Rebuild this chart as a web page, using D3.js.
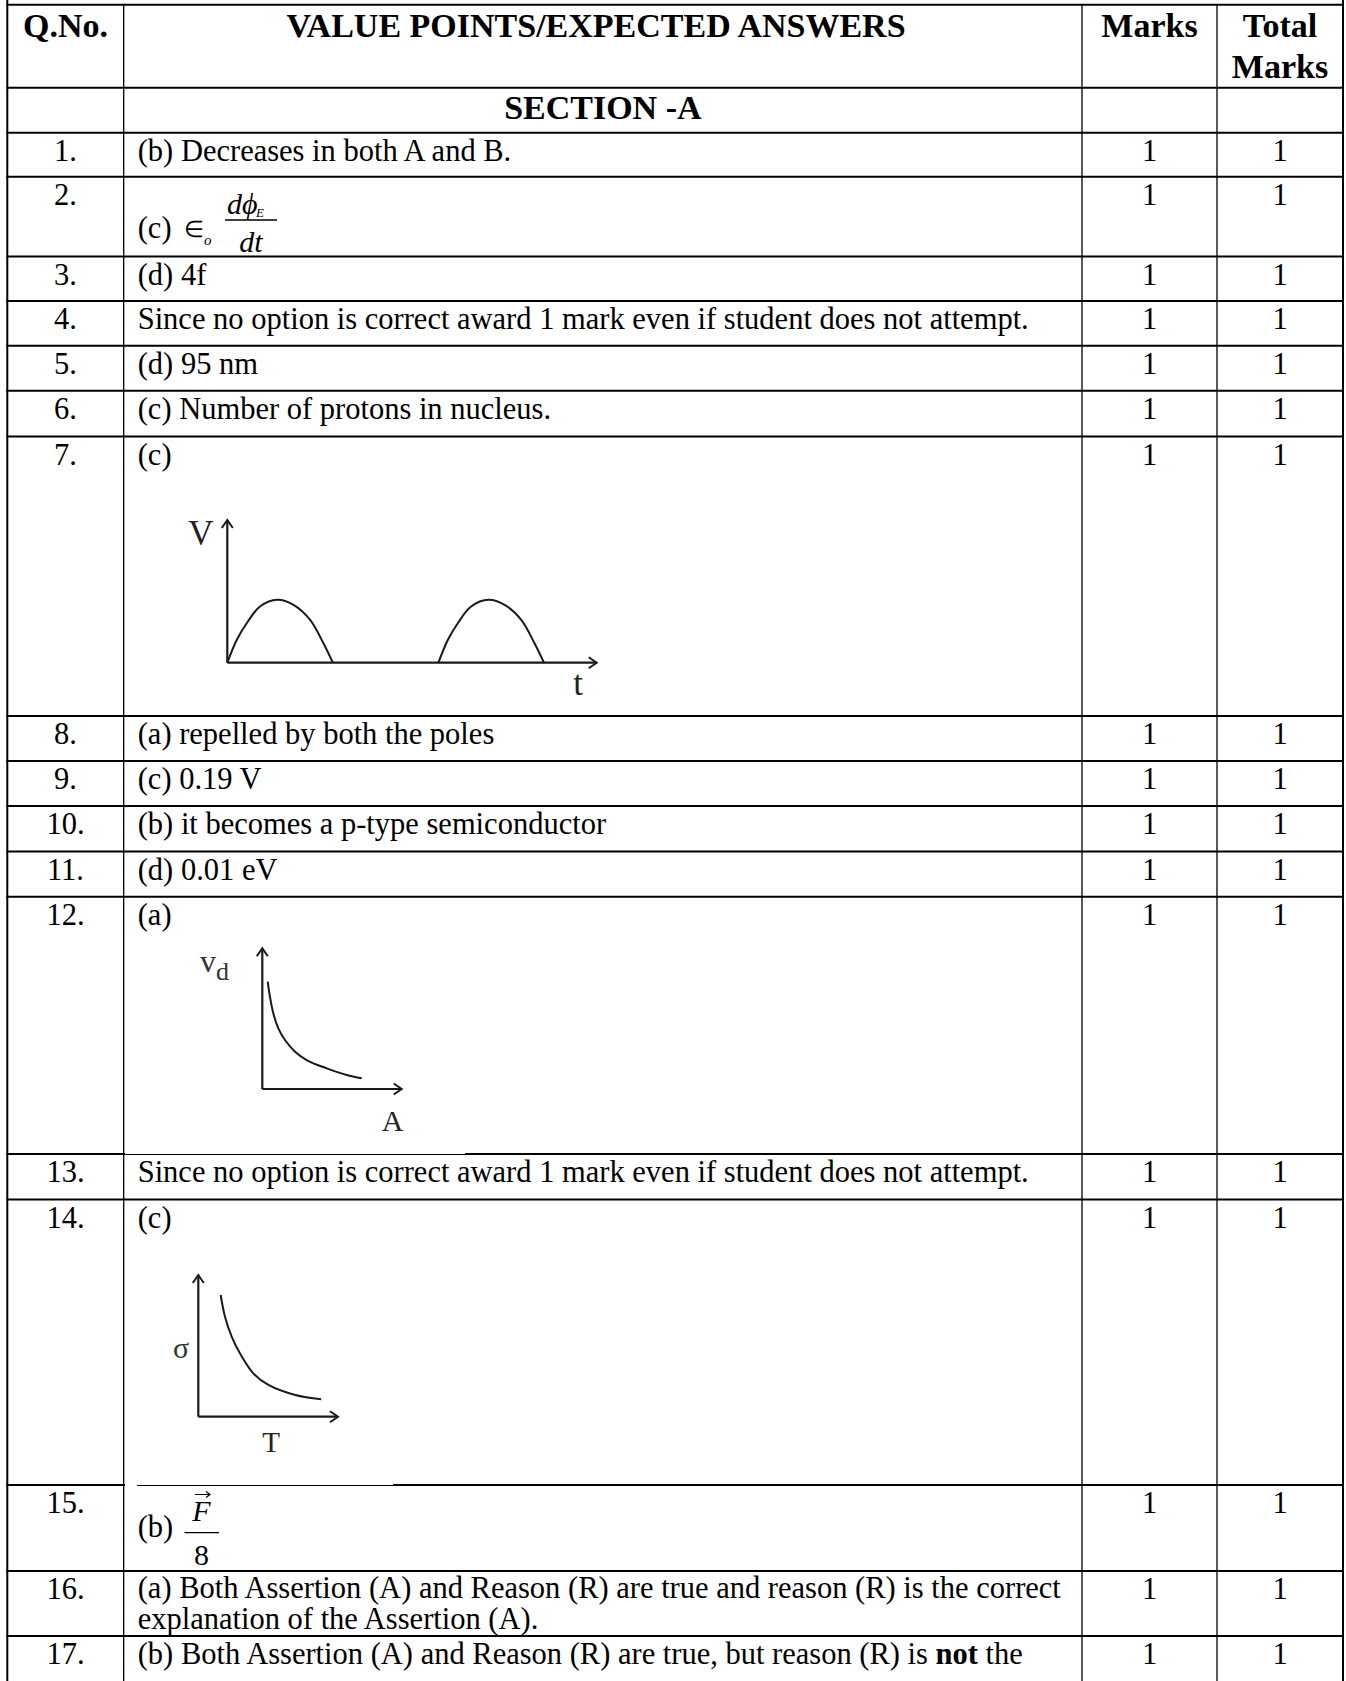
<!DOCTYPE html>
<html>
<head>
<meta charset="utf-8">
<script src="https://cdn.jsdelivr.net/npm/d3@7"></script>
<style>
  body { margin: 0; background: #fff; }
  svg { display: block; font-family: "Liberation Serif", "Times New Roman", serif; }
  text { white-space: pre; }
</style>
</head>
<body>
<svg id="canvas" width="1346" height="1681"></svg>
<script>
// table content
const headerLabels = ["Q.No.", "VALUE POINTS/EXPECTED ANSWERS", "Marks", "Total"];
const headerSecondLine = ["", "", "", "Marks"];
const sectionTitle = "SECTION -A";
const questionNos = ["1.", "2.", "3.", "4.", "5.", "6.", "7.", "8.", "9.", "10.",
  "11.", "12.", "13.", "14.", "15.", "16.", "17."];
const answerLines = [
  ["(b) Decreases in both A and B."],
  ["(c)"],
  ["(d) 4f"],
  ["Since no option is correct award 1 mark even if student does not attempt."],
  ["(d) 95 nm"],
  ["(c) Number of protons in nucleus."],
  ["(c)"],
  ["(a) repelled by both the poles"],
  ["(c) 0.19 V"],
  ["(b) it becomes a p-type semiconductor"],
  ["(d) 0.01 eV"],
  ["(a)"],
  ["Since no option is correct award 1 mark even if student does not attempt."],
  ["(c)"],
  ["(b)"],
  ["(a) Both Assertion (A) and Reason (R) are true and reason (R) is the correct",
   "explanation of the Assertion (A)."],
  ["(b) Both Assertion (A) and Reason (R) are true, but reason (R) is **not** the"]
];
const marks = [1, 1, 1, 1, 1, 1, 1, 1, 1, 1, 1, 1, 1, 1, 1, 1, 1];
const totalMarks = [1, 1, 1, 1, 1, 1, 1, 1, 1, 1, 1, 1, 1, 1, 1, 1, 1];

// Q7: half wave output, one arch, repeated at each start time
const archT = [0, 0.089, 0.184, 0.31, 0.475, 0.627, 0.785, 0.911, 1];
const archV = [0, 0.362, 0.628, 0.894, 1, 0.92, 0.681, 0.309, 0];
const archStarts = [0, 2];

// Q12: drift velocity vs area
const driftA = [0.385, 0.55, 0.79, 1.15, 1.63, 2.35, 3.18, 4.62, 6.05, 7.13];
const driftV = [7.63, 6.56, 5.38, 4.31, 3.48, 2.65, 2.06, 1.47, 1.0, 0.76];

// Q14: conductivity vs temperature
const condT = [1.6, 1.91, 2.39, 2.98, 3.94, 5.02, 6.94, 8.8];
const condSigma = [8.59, 7.06, 5.65, 4.47, 3.06, 2.24, 1.53, 1.23];

// layout
const rowEdges = [4.7, 87.7, 132.7, 176.7, 256.5, 301, 345.7, 390.7, 436.5, 716, 761,
  806, 851.5, 896.7, 1154, 1199.5, 1485, 1571, 1636, 1720];
const colEdges = [7.3, 123.7, 1082, 1217, 1343];
const bodySize = 30.5;
const headSize = 34;

const canvas = d3.select("#canvas");

const colMid = (i) => (colEdges[i] + colEdges[i + 1]) / 2;
const rowTop = (q) => rowEdges[q + 2];

// grid lines
canvas
  .selectAll("line.hrule")
  .data(rowEdges.slice(0, 19))
  .enter()
  .append("line")
  .attr("class", "hrule")
  .attr("x1", colEdges[0] - 1)
  .attr("x2", colEdges[4] + 1)
  .attr("y1", (y) => y)
  .attr("y2", (y) => y)
  .attr("stroke", "#000")
  .attr("stroke-width", 2);

// where the pasted pictures cover part of a rule
const ruleCuts = [
  { y: rowEdges[14], x0: 125, x1: 465, w: 1 },
  { y: rowEdges[16], x0: 125, x1: 137, w: 3 },
  { y: rowEdges[16], x0: 137, x1: 393, w: 1 }
];
canvas
  .selectAll("line.cut")
  .data(ruleCuts)
  .enter()
  .append("line")
  .attr("x1", (c) => c.x0)
  .attr("x2", (c) => c.x1)
  .attr("y1", (c) => c.y - (c.w === 1 ? 0.5 : 0))
  .attr("y2", (c) => c.y - (c.w === 1 ? 0.5 : 0))
  .attr("stroke", "#fff")
  .attr("stroke-width", (c) => c.w);

canvas
  .selectAll("line.vrule")
  .data(colEdges)
  .enter()
  .append("line")
  .attr("class", "vrule")
  .attr("x1", (x) => x)
  .attr("x2", (x) => x)
  .attr("y1", (x, i) => (i === 0 || i === 4 ? 0 : rowEdges[0]))
  .attr("y2", 1681)
  .attr("stroke", "#000")
  .attr("stroke-width", (x, i) => (i === 0 || i === 4 ? 2 : 1.3));

// header
canvas
  .selectAll("text.head")
  .data(headerLabels)
  .enter()
  .append("text")
  .attr("x", (d, i) => (i === 1 ? 596 : colMid(i)))
  .attr("y", rowEdges[0] + 32.5)
  .attr("text-anchor", "middle")
  .attr("font-weight", "bold")
  .attr("font-size", headSize)
  .text((d) => d);

canvas
  .selectAll("text.head2")
  .data(headerSecondLine)
  .enter()
  .append("text")
  .attr("x", (d, i) => colMid(i))
  .attr("y", rowEdges[0] + 73.5)
  .attr("text-anchor", "middle")
  .attr("font-weight", "bold")
  .attr("font-size", headSize)
  .text((d) => d);

canvas
  .append("text")
  .attr("x", colMid(1))
  .attr("y", rowEdges[1] + 31)
  .attr("text-anchor", "middle")
  .attr("font-weight", "bold")
  .attr("font-size", headSize)
  .text(sectionTitle);

// question rows
const rows = canvas
  .selectAll("g.row")
  .data(questionNos)
  .enter()
  .append("g")
  .attr("class", "row")
  .attr("transform", (d, i) => "translate(0," + rowTop(i) + ")")
  .attr("font-size", bodySize);

rows
  .append("text")
  .attr("x", colMid(0))
  .attr("y", 28)
  .attr("text-anchor", "middle")
  .text((d) => d);

rows
  .append("text")
  .attr("x", colMid(2))
  .attr("y", 28)
  .attr("text-anchor", "middle")
  .text((d, i) => marks[i]);

rows
  .append("text")
  .attr("x", colMid(3))
  .attr("y", 28)
  .attr("text-anchor", "middle")
  .text((d, i) => totalMarks[i]);

rows.each(function (d, i) {
  let lines = answerLines[i];
  let dy = 28;
  if (i === 1) dy = 61.6;
  if (i === 14) dy = 51.7;
  if (i === 15) dy = 26.5;
  lines.forEach((line, k) => {
    const t = d3
      .select(this)
      .append("text")
      .attr("x", 137.7)
      .attr("y", dy + k * 31);
    line.split("**").forEach((part, j) => {
      t.append("tspan")
        .attr("font-weight", j % 2 === 1 ? "bold" : null)
        .text(part);
    });
  });
});

// Q2 formula
const q2 = canvas.append("g").attr("font-style", "italic");
q2.append("text").attr("x", 184).attr("y", 237).attr("font-style", "normal")
  .attr("font-size", 23).text("\u2208");
q2.append("text").attr("x", 204).attr("y", 245).attr("font-size", 15).text("o");
q2.append("text").attr("x", 227).attr("y", 214).attr("font-size", 30).text("d\u03D5");
q2.append("text").attr("x", 256).attr("y", 217).attr("font-size", 13).text("E");
q2.append("line").attr("x1", 225).attr("x2", 277).attr("y1", 220).attr("y2", 220)
  .attr("stroke", "#000").attr("stroke-width", 1.3);
q2.append("text").attr("x", 251).attr("y", 252).attr("text-anchor", "middle")
  .attr("font-size", 30).text("dt");

// Q15 formula
const q15 = canvas.append("g");
q15.append("text").attr("x", 201.5).attr("y", 1521).attr("text-anchor", "middle")
  .attr("font-style", "italic").attr("font-size", 30).text("F");
q15.append("path").attr("d", "M195,1494.5 H210 M206,1491.5 L210,1494.5 L206,1497.5")
  .attr("fill", "none").attr("stroke", "#000").attr("stroke-width", 1.2);
q15.append("line").attr("x1", 184.5).attr("x2", 219).attr("y1", 1532.7).attr("y2", 1532.7)
  .attr("stroke", "#000").attr("stroke-width", 1.3);
q15.append("text").attr("x", 201.5).attr("y", 1565).attr("text-anchor", "middle")
  .attr("font-size", 30).text("8");

// arrow marker for sketch axes
canvas
  .append("defs")
  .append("marker")
  .attr("id", "arrow")
  .attr("markerUnits", "userSpaceOnUse")
  .attr("viewBox", "-10 -7 12 14")
  .attr("markerWidth", 12)
  .attr("markerHeight", 14)
  .attr("refX", 0)
  .attr("refY", 0)
  .attr("orient", "auto")
  .append("path")
  .attr("d", "M-8,-5.5 L0,0 L-8,5.5")
  .attr("fill", "none")
  .attr("stroke", "#1a1a1a")
  .attr("stroke-width", 2);

const drawAxes = (g, x, y) => {
  const [x0, x1] = x.domain();
  const [y0, y1] = y.domain();
  g.append("line")
    .attr("x1", x(x0)).attr("y1", y(y0))
    .attr("x2", x(x0)).attr("y2", y(y1))
    .attr("stroke", "#1a1a1a").attr("stroke-width", 2.2)
    .attr("marker-end", "url(#arrow)");
  g.append("line")
    .attr("x1", x(x0)).attr("y1", y(y0))
    .attr("x2", x(x1)).attr("y2", y(y0))
    .attr("stroke", "#1a1a1a").attr("stroke-width", 2.2)
    .attr("marker-end", "url(#arrow)");
};

// Q7 sketch
const x7 = d3.scaleLinear().domain([0, 3.5]).range([227.3, 596.7]);
const y7 = d3.scaleLinear().domain([0, 2.27]).range([662.7, 520]);
const g7 = canvas.append("g");
drawAxes(g7, x7, y7);
const archLine = d3
  .line()
  .x((p) => x7(p[0]))
  .y((p) => y7(p[1]))
  .curve(d3.curveCatmullRom.alpha(0.5));
g7.selectAll("path.arch")
  .data(archStarts)
  .enter()
  .append("path")
  .attr("d", (s) => archLine(archT.map((t, i) => [s + t, archV[i]])))
  .attr("fill", "none")
  .attr("stroke", "#1a1a1a")
  .attr("stroke-width", 2);
g7.append("text").attr("x", 201).attr("y", 545).attr("text-anchor", "middle")
  .attr("font-size", 35).attr("fill", "#222").text("V");
g7.append("text").attr("x", 578).attr("y", 695).attr("text-anchor", "middle")
  .attr("font-size", 35).attr("fill", "#222").text("t");

// Q12 sketch
const x12 = d3.scaleLinear().domain([0, 10]).range([262.3, 401.7]);
const y12 = d3.scaleLinear().domain([0, 10]).range([1089, 948.3]);
const g12 = canvas.append("g");
drawAxes(g12, x12, y12);
g12.append("path")
  .attr("d", d3.line()
    .x((a, i) => x12(a))
    .y((a, i) => y12(driftV[i]))
    .curve(d3.curveCatmullRom.alpha(0.5))(driftA))
  .attr("fill", "none")
  .attr("stroke", "#1a1a1a")
  .attr("stroke-width", 2);
const vd = g12.append("text").attr("x", 200).attr("y", 972).attr("font-size", 32)
  .attr("fill", "#333");
vd.append("tspan").text("v");
vd.append("tspan").attr("dy", 8).attr("font-size", 26).text("d");
g12.append("text").attr("x", 392.7).attr("y", 1131).attr("text-anchor", "middle")
  .attr("font-size", 30).attr("fill", "#222").text("A");

// Q14 sketch
const x14 = d3.scaleLinear().domain([0, 10]).range([198.3, 338]);
const y14 = d3.scaleLinear().domain([0, 10]).range([1416.7, 1275]);
const g14 = canvas.append("g");
drawAxes(g14, x14, y14);
g14.append("path")
  .attr("d", d3.line()
    .x((t) => x14(t))
    .y((t, i) => y14(condSigma[i]))
    .curve(d3.curveCatmullRom.alpha(0.5))(condT))
  .attr("fill", "none")
  .attr("stroke", "#1a1a1a")
  .attr("stroke-width", 2);
g14.append("text").attr("x", 181).attr("y", 1358).attr("text-anchor", "middle")
  .attr("font-size", 30).attr("fill", "#333").text("\u03C3");
g14.append("text").attr("x", 271).attr("y", 1452).attr("text-anchor", "middle")
  .attr("font-size", 29).attr("fill", "#222").text("T");
</script>
</body>
</html>
